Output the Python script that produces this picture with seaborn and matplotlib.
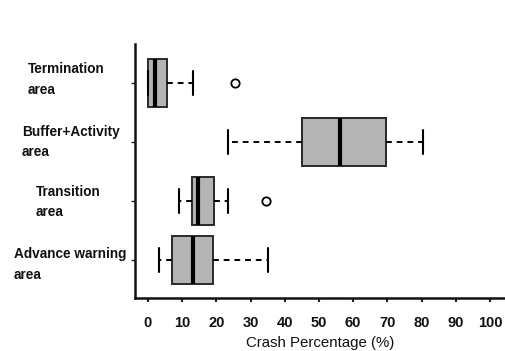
import matplotlib
matplotlib.use("Agg")
import matplotlib.pyplot as plt
import matplotlib.transforms as mtransforms
import pandas as pd
import seaborn as sns

# Work-zone areas, top to bottom
areas = ["Termination\narea", "Buffer+Activity\narea", "Transition\narea", "Advance warning\narea"]

# Box-plot summary of crash percentage (%) per area
whisker_low = [0.0, 23.3, 9.2, 3.3]
quartile_1 = [0.0, 44.9, 12.8, 7.1]
medians = [2.0, 56.1, 14.7, 13.2]
quartile_3 = [5.6, 69.5, 19.4, 18.9]
whisker_high = [13.2, 80.3, 23.5, 35.2]
outliers = [[25.4], [], [34.5], []]

x_ticks = [0, 10, 20, 30, 40, 50, 60, 70, 80, 90, 100]

# Build nine observations per area whose quartiles reproduce the summary
rows = []
for i, area in enumerate(areas):
    obs = [whisker_low[i], quartile_1[i], quartile_1[i], medians[i], medians[i],
           medians[i], quartile_3[i], whisker_high[i]]
    obs += outliers[i] if outliers[i] else [whisker_high[i]]
    rows += [(area, v) for v in obs]
df = pd.DataFrame(rows, columns=["area", "pct"])

sns.set_theme(style="white")
plt.rcParams["font.family"] = ["Liberation Sans", "DejaVu Sans"]

fig = plt.figure(figsize=(5.05, 3.51), dpi=100)
ax = fig.add_axes([135 / 505, 1 - 298 / 351, 1 - 135 / 505, (298 - 44) / 351])

edge = "#2a2a2a"
sns.boxplot(
    data=df, x="pct", y="area", order=areas, orient="h", ax=ax,
    color="#b4b4b4", saturation=1, width=0.81, linewidth=1.4, linecolor=edge,
    whis=1.5,
    medianprops=dict(color="black", linewidth=3),
    whiskerprops=dict(linestyle=(0, (3, 2.5)), linewidth=1.4, color="black"),
    capprops=dict(linewidth=1.5, color="black"),
    flierprops=dict(marker="o", markersize=6, markerfacecolor="white",
                    markeredgecolor="black", markeredgewidth=1.3),
)

ax.set_xlim(-3.8, 104.4)
ax.set_ylim(3.643, -0.655)
ax.set_xticks(x_ticks)
ax.set_xticklabels([str(t) for t in x_ticks], fontsize=10.5, fontweight="bold", color="#111111")
ax.set_xlabel("Crash Percentage (%)", fontsize=10.8, color="#111111", labelpad=4)
ax.set_ylabel("")
ax.set_yticklabels([])
ax.tick_params(axis="x", direction="out", length=3, width=1.5, color="#222222", pad=10)
ax.tick_params(axis="y", direction="out", length=3, width=1, color="#222222")
ax.tick_params(bottom=True, left=True)

for side in ["top", "right"]:
    ax.spines[side].set_visible(False)
for side in ["left", "bottom"]:
    ax.spines[side].set_color("#111111")
    ax.spines[side].set_linewidth(1.8)

# Left-aligned area labels, each at its own horizontal offset
label_x = [28, 22, 36, 14]
label_dy = [-0.05, 0.0, 0.02, 0.08]
trans = mtransforms.blended_transform_factory(fig.transFigure, ax.transData)
for i, area in enumerate(areas):
    ax.text(label_x[i] / 505, i + label_dy[i], area, transform=trans,
            ha="left", va="center", fontsize=9.8, fontweight="bold",
            color="#111111", linespacing=1.6, clip_on=False)

fig.savefig("out.png", dpi=100)
